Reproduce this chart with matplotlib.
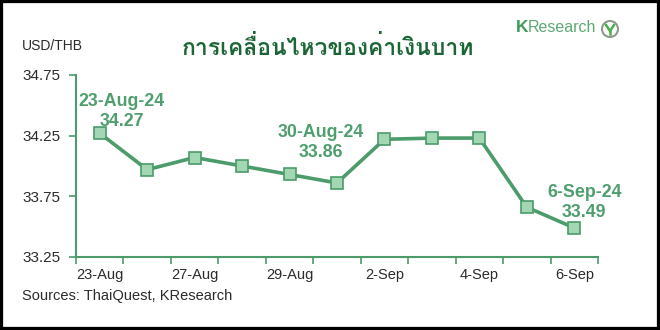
import matplotlib
matplotlib.use("Agg")
import matplotlib.pyplot as plt
from matplotlib import font_manager as fm
from matplotlib.patches import Rectangle, Ellipse
from matplotlib.lines import Line2D

# ---------------- data ----------------
dates = ["23-Aug", "26-Aug", "27-Aug", "28-Aug", "29-Aug", "30-Aug",
         "2-Sep", "3-Sep", "4-Sep", "5-Sep", "6-Sep"]
usdthb = [34.27, 33.97, 34.07, 34.00, 33.93, 33.86,
          34.22, 34.23, 34.23, 33.66, 33.49]
tick_labels = ["23-Aug", "27-Aug", "29-Aug", "2-Sep", "4-Sep", "6-Sep"]
y_ticks = [33.25, 33.75, 34.25, 34.75]
callouts = [(0, "23-Aug-24"), (5, "30-Aug-24"), (10, "6-Sep-24")]
title = "การเคลื่อนไหวของค่าเงินบาท"

# ------------- find a Thai font ---------------
def find_thai_font():
    try:
        from fontTools.ttLib import TTFont
    except Exception:
        return None
    best = None
    for f in fm.fontManager.ttflist:
        try:
            t = TTFont(f.fname, fontNumber=0, lazy=True)
            cmap = t.getBestCmap()
            if cmap and 0x0E01 in cmap and 0x0E40 in cmap:
                score = 0
                w = f.weight if isinstance(f.weight, int) else 400
                if w >= 600:
                    score += 2
                if "Looped" not in f.name and "Serif" not in f.name:
                    score += 1
                if best is None or score > best[0]:
                    best = (score, f)
        except Exception:
            pass
    return best[1] if best else None

thai = find_thai_font()
thai_family = [thai.name, "DejaVu Sans"] if thai else ["DejaVu Sans"]

plt.rcParams["font.family"] = ["Liberation Sans", "DejaVu Sans"]

GREEN = "#4b9b6b"
DARK = "#2b2b2b"

fig = plt.figure(figsize=(6.6, 3.3), dpi=100)
fig.patch.set_facecolor("white")
W, H = 660, 330
ax = fig.add_axes([76 / W, 1 - 257 / H, (598 - 76) / W, (257 - 75) / H])

x = list(range(len(dates)))
ax.plot(x, usdthb, color=GREEN, lw=2.6, marker="s", markersize=8,
        markerfacecolor="#a3d6b2", markeredgecolor=GREEN, markeredgewidth=1.2,
        zorder=3)

ax.set_xlim(-0.5, len(dates) - 0.5)
ax.set_ylim(y_ticks[0], y_ticks[-1])
ax.set_yticks(y_ticks)
ax.set_yticklabels([f"{v:.2f}" for v in y_ticks])
label_pos = [dates.index(d) for d in tick_labels]
ax.set_xticks(label_pos)
ax.set_xticklabels(tick_labels)
ax.set_xticks([i - 0.5 for i in range(len(dates) + 1)], minor=True)
ax.tick_params(axis="x", which="major", length=0, pad=8, labelsize=10.5,
               labelcolor=DARK)
ax.tick_params(axis="x", which="minor", length=5, width=1.2, color=GREEN,
               direction="out")
ax.tick_params(axis="y", length=5, width=1.2, color=GREEN, direction="out",
               labelsize=11, labelcolor=DARK, pad=6)

for s in ["top", "right"]:
    ax.spines[s].set_visible(False)
for s in ["left", "bottom"]:
    ax.spines[s].set_color(GREEN)
    ax.spines[s].set_linewidth(1.5)

offsets = {0: (22, 3), 5: (-16, 22), 10: (10, 7)}
for i, lab in callouts:
    ax.annotate(f"{lab}\n{usdthb[i]:.2f}", (x[i], usdthb[i]),
                xytext=offsets[i], textcoords="offset pixels",
                ha="center", va="bottom", fontsize=12.8, fontweight="bold",
                color="#4f9e6e", linespacing=1.25, zorder=4)

# texts
fig.text(22 / W, 1 - 46 / H, "USD/THB", fontsize=10, color=DARK,
         ha="left", va="center")
fig.text(328 / W, 1 - 47 / H, title, fontsize=16.5, fontweight="bold",
         color="#1c6636", ha="center", va="center", family=thai_family)
fig.text(22 / W, 1 - 296 / H, "Sources: ThaiQuest, KResearch", fontsize=10.5,
         color=DARK, ha="left", va="center")

# logo
fig.text(516 / W, 1 - 28 / H, "K", fontsize=12.5, fontweight="bold",
         color="#3f9a58", ha="left", va="center")
fig.text(528 / W, 1 - 28 / H, "Research", fontsize=11.5,
         color="#5ea873", ha="left", va="center")
fig.add_artist(Ellipse((610 / W, 1 - 29 / H), 16 / W, 16 / H,
                       transform=fig.transFigure, fill=False,
                       edgecolor="#8d9a8d", lw=1.5))
ys = lambda p: 1 - p / H
fig.add_artist(Line2D([606 / W, 610 / W, 614 / W], [ys(25), ys(31), ys(25)],
                      transform=fig.transFigure, color="#4caf50", lw=1.8))
fig.add_artist(Line2D([610 / W, 610 / W], [ys(31), ys(34)],
                      transform=fig.transFigure, color="#4caf50", lw=1.8))

# black frame
fig.add_artist(Rectangle((0, 0), 1, 1, transform=fig.transFigure,
                         fill=False, edgecolor="black", lw=4.5))

fig.savefig("out.png", dpi=100)
